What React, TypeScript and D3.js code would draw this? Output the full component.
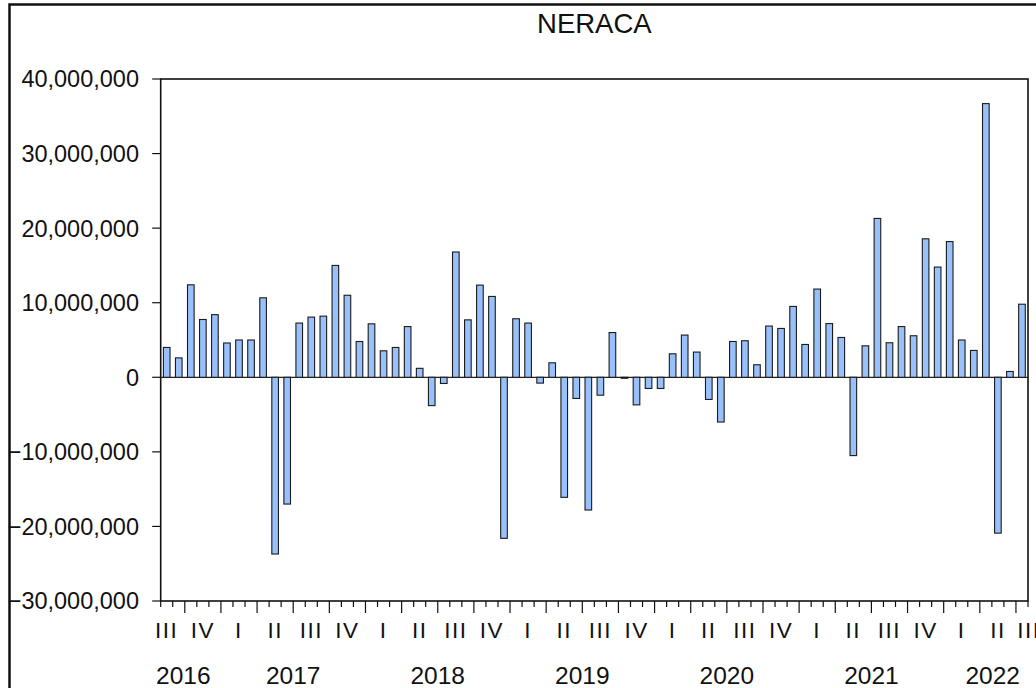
import * as d3 from "d3";
import React from "react";

// monthly series, 2016M08 .. 2022M07
const startMonth = new Date(2016, 7, 1);
const endMonth = new Date(2022, 7, 1);
const neraca = [
  4000000, 2600000, 12400000, 7750000, 8400000, 4600000, 5000000, 5000000, 10660000, -23700000,
  -17000000, 7270000, 8070000, 8200000, 15000000, 11000000, 4800000, 7170000, 3550000, 4000000,
  6800000, 1200000, -3800000, -830000, 16800000, 7700000, 12360000, 10840000, -21600000, 7850000,
  7270000, -780000, 1940000, -16100000, -2840000, -17800000, -2400000, 6000000, -100000, -3700000,
  -1500000, -1500000, 3150000, 5660000, 3380000, -2970000, -6000000, 4800000, 4900000, 1680000,
  6870000, 6550000, 9500000, 4400000, 11830000, 7200000, 5340000, -10500000, 4220000, 21300000,
  4630000, 6800000, 5570000, 18570000, 14780000, 18200000, 5000000, 3600000, 36700000, -20900000,
  780000, 9800000,
];
const yTicks = [-30000000, -20000000, -10000000, 0, 10000000, 20000000, 30000000, 40000000];
const romans = ["I", "II", "III", "IV"];

const W = 1036;
const H = 688;
const margin = { top: 79, right: 8, bottom: 87, left: 160.7 };
const font = "'Liberation Sans', Arial, sans-serif";

export default function App() {
  const months = d3.timeMonth.range(startMonth, endMonth);
  const x0 = margin.left;
  const x1 = W - margin.right;
  const y0 = margin.top;
  const y1 = H - margin.bottom;

  const x = d3
    .scaleBand<Date>()
    .domain(months)
    .range([x0, x1])
    .paddingInner(0.45)
    .paddingOuter(0.225);
  const step = x.step();

  const y = d3.scaleLinear().domain([-30000000, 40000000]).range([y1, y0]);
  const fmt = d3.format(",");

  // month boundary ticks; long ones at quarter starts
  const boundaries = months.map((m, i) => ({ x: x0 + i * step, major: m.getMonth() % 3 === 0 }));
  boundaries.push({ x: x1, major: endMonth.getMonth() % 3 === 0 });

  // quarter labels, centered in the whole quarter span
  const quarters = d3.timeMonth
    .every(3)!
    .range(d3.timeMonth.offset(startMonth, -2), endMonth)
    .map((q) => {
      const i = d3.timeMonth.count(startMonth, q);
      let cx = x0 + (i + 1.5) * step;
      if (cx > x1 + 1) cx = x1 + 1;
      return { label: romans[Math.floor(q.getMonth() / 3)], cx };
    });

  // year labels, centered in the whole year, kept inside the frame
  const years = d3.range(startMonth.getFullYear(), endMonth.getFullYear() + 1).map((yr) => {
    const i = d3.timeMonth.count(startMonth, new Date(yr, 0, 1));
    const cx = x0 + (i + 6) * step;
    const half = 28;
    if (cx - half < 156) return { yr, px: 156, anchor: "start" };
    if (cx + half > 1020) return { yr, px: 1020, anchor: "end" };
    return { yr, px: cx, anchor: "middle" };
  });

  return (
    <svg
      width={W}
      height={H}
      style={{ position: "absolute", left: 0, top: 0, background: "#fff" }}
      fontFamily={font}
    >
      {/* outer frame of the graph window */}
      <rect x={9.5} y={4.5} width={1200} height={900} fill="none" stroke="#111" strokeWidth={2.5} />

      <text x={(x0 + x1) / 2} y={33} textAnchor="middle" fontSize={27.5} fill="#111">
        NERACA
      </text>

      {/* y axis */}
      {yTicks.map((t) => (
        <g key={t}>
          <line x1={x0 - 8.5} x2={x0} y1={y(t)} y2={y(t)} stroke="#111" strokeWidth={1.2} />
          <text x={139} y={y(t)} dy="0.36em" textAnchor="end" fontSize={23.5} fill="#111">
            {fmt(t)}
          </text>
        </g>
      ))}

      {/* zero line */}
      <line x1={x0} x2={x1} y1={y(0)} y2={y(0)} stroke="#222" strokeWidth={1.2} />

      {/* bars */}
      {neraca.map((v, i) => {
        const m = months[i];
        const top = y(Math.max(0, v));
        const h = Math.abs(y(v) - y(0));
        return (
          <rect
            key={i}
            x={x(m)}
            y={top}
            width={x.bandwidth()}
            height={Math.max(h, 1)}
            fill="#98c0fb"
            stroke="#1b1b1b"
            strokeWidth={1.1}
          />
        );
      })}

      {/* plot frame */}
      <rect x={x0} y={y0} width={x1 - x0} height={y1 - y0} fill="none" stroke="#111" strokeWidth={1.6} />

      {/* x ticks */}
      {boundaries.map((b, i) => (
        <line
          key={i}
          x1={b.x}
          x2={b.x}
          y1={y1}
          y2={y1 + (b.major ? 12 : 6)}
          stroke="#111"
          strokeWidth={1.2}
        />
      ))}

      {quarters.map((q, i) => (
        <text
          key={i}
          x={q.cx}
          y={637.5}
          textAnchor="middle"
          fontSize={22.5}
          letterSpacing={1.5}
          fill="#111"
        >
          {q.label}
        </text>
      ))}

      {years.map((d) => (
        <text
          key={d.yr}
          x={d.px}
          y={684}
          textAnchor={d.anchor as any}
          fontSize={24.5}
          fill="#111"
        >
          {d.yr}
        </text>
      ))}
    </svg>
  );
}
